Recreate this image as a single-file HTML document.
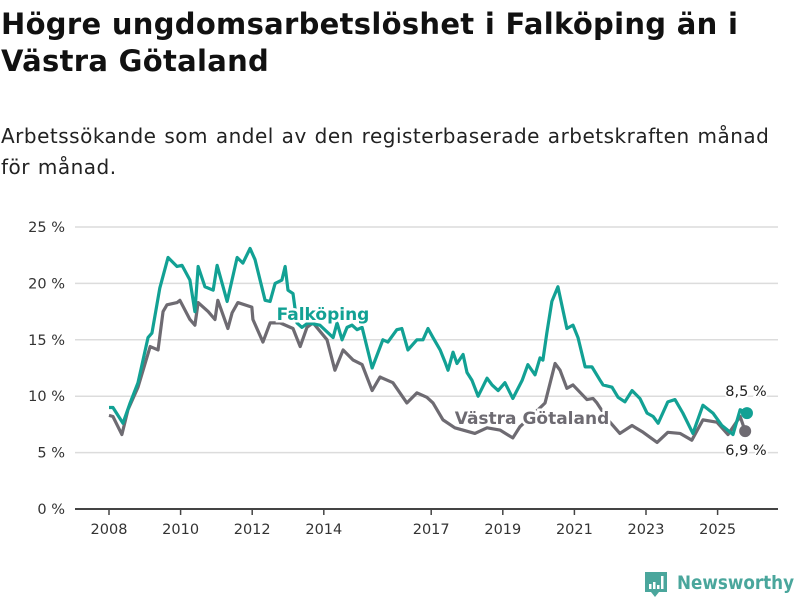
<!DOCTYPE html>
<html><head><meta charset="utf-8"><style>
body{margin:0;background:#fff;width:800px;height:600px;overflow:hidden;font-family:"DejaVu Sans","Liberation Sans",sans-serif;}
h1{position:absolute;left:1px;top:6px;margin:0;font-size:29px;line-height:37px;font-weight:bold;color:#111;width:760px;letter-spacing:0.3px}
p{position:absolute;left:1px;top:121px;margin:0;font-size:20px;line-height:31px;color:#222;width:786px;letter-spacing:0.5px;word-spacing:1px}
svg{position:absolute;left:0;top:0}
text{font-family:"DejaVu Sans","Liberation Sans",sans-serif}
</style></head><body>
<h1>Högre ungdomsarbetslöshet i Falköping än i Västra Götaland</h1>
<p>Arbetssökande som andel av den registerbaserade arbetskraften månad för månad.</p>
<svg id="chart" width="800" height="600"></svg>
<script>
const faDates=[2008.0,2008.11,2008.39,2008.59,2008.81,2009.09,2009.2,2009.42,2009.65,2009.9,2010.04,2010.26,2010.4,2010.49,2010.68,2010.91,2011.02,2011.3,2011.58,2011.74,2011.94,2012.08,2012.36,2012.5,2012.64,2012.83,2012.92,2013.0,2013.14,2013.25,2013.39,2013.56,2013.89,2014.26,2014.37,2014.51,2014.65,2014.79,2014.93,2015.07,2015.35,2015.65,2015.79,2016.04,2016.18,2016.35,2016.6,2016.77,2016.91,2017.05,2017.25,2017.39,2017.47,2017.61,2017.72,2017.89,2018.0,2018.14,2018.31,2018.42,2018.56,2018.7,2018.87,2019.06,2019.28,2019.54,2019.7,2019.9,2020.04,2020.12,2020.23,2020.37,2020.54,2020.79,2020.96,2021.1,2021.3,2021.49,2021.72,2021.8,2022.05,2022.22,2022.41,2022.61,2022.83,2023.03,2023.2,2023.34,2023.61,2023.81,2024.03,2024.31,2024.59,2024.87,2025.12,2025.43,2025.63,2025.82];
const faValues=[9.0,9.0,7.6,9.4,11.2,15.2,15.6,19.6,22.3,21.5,21.6,20.3,17.5,21.5,19.7,19.4,21.6,18.4,22.3,21.8,23.1,22.1,18.5,18.4,20.0,20.3,21.5,19.4,19.1,16.5,16.1,16.5,16.3,15.2,16.5,15.0,16.1,16.3,15.9,16.1,12.5,15.0,14.8,15.9,16.0,14.1,15.0,15.0,16.0,15.2,14.1,13.0,12.3,13.9,12.9,13.7,12.1,11.4,10.0,10.7,11.6,11.0,10.5,11.2,9.8,11.4,12.8,11.9,13.4,13.2,15.6,18.4,19.7,16.0,16.3,15.2,12.6,12.6,11.4,11.0,10.8,9.9,9.5,10.5,9.8,8.5,8.2,7.6,9.5,9.7,8.5,6.7,9.2,8.5,7.4,6.6,8.8,8.5];
const vgDates=[2008.0,2008.11,2008.36,2008.53,2008.81,2009.15,2009.37,2009.51,2009.62,2009.9,2009.98,2010.26,2010.4,2010.49,2010.77,2010.96,2011.04,2011.32,2011.44,2011.6,2011.99,2012.02,2012.3,2012.5,2012.78,2013.14,2013.34,2013.53,2013.7,2014.09,2014.31,2014.54,2014.82,2015.07,2015.35,2015.57,2015.93,2016.32,2016.6,2016.88,2017.05,2017.33,2017.66,2018.22,2018.56,2018.92,2019.28,2019.48,2019.82,2020.18,2020.46,2020.6,2020.79,2020.96,2021.35,2021.52,2021.63,2021.94,2022.27,2022.61,2022.92,2023.31,2023.61,2023.95,2024.28,2024.59,2024.98,2025.29,2025.63,2025.77];
const vgValues=[8.3,8.2,6.6,8.8,10.8,14.4,14.1,17.5,18.1,18.3,18.5,16.8,16.3,18.3,17.5,16.8,18.5,16.0,17.4,18.3,17.9,16.8,14.8,16.5,16.5,16.0,14.4,16.1,16.5,15.0,12.3,14.1,13.2,12.8,10.5,11.7,11.2,9.4,10.3,9.9,9.4,7.9,7.2,6.7,7.2,7.0,6.3,7.3,8.3,9.4,12.9,12.3,10.7,11.0,9.7,9.8,9.4,7.9,6.7,7.4,6.8,5.9,6.8,6.7,6.1,7.9,7.7,6.6,8.2,6.9];
const yTicks=[0,5,10,15,20,25];
const yTickLabels=["0 %","5 %","10 %","15 %","20 %","25 %"];
const xTicks=[2008,2010,2012,2014,2017,2019,2021,2023,2025];
const xTickLabels=["2008","2010","2012","2014","2017","2019","2021","2023","2025"];
const faLast="8,5 %", vgLast="6,9 %";

const NS="http://www.w3.org/2000/svg";
const svg=document.getElementById('chart');
const X=t=>109+(t-2008)*35.8;
const Y=v=>509-v*11.28;
function mk(tag,attrs,txt){const e=document.createElementNS(NS,tag);for(const k in attrs)e.setAttribute(k,attrs[k]);if(txt!=null)e.textContent=txt;svg.appendChild(e);return e;}
yTicks.forEach((v,i)=>{
  if(v>0){const g=mk('line',{x1:75,x2:778,y1:Y(v),y2:Y(v),stroke:'#dcdcdc','stroke-width':1.5});
  
  }
  const t=mk('text',{x:65,y:Y(v)+5,'text-anchor':'end','font-size':14.5,fill:'#333'},yTickLabels[i]);
  
  
});
const ax=mk('line',{x1:75,x2:778,y1:509,y2:509,stroke:'#444','stroke-width':2});


xTicks.forEach((yr,i)=>{
  const tk=mk('line',{x1:X(yr),x2:X(yr),y1:509,y2:515,stroke:'#444','stroke-width':1.5});
  
  
  const t=mk('text',{x:X(yr),y:534,'text-anchor':'middle','font-size':14.5,fill:'#333'},xTickLabels[i]);
  
  
});
function line(d,v,col,name){
  const p=mk('polyline',{points:d.map((t,i)=>X(t)+','+Y(v[i])).join(' '),fill:'none',stroke:col,'stroke-width':3.2,'stroke-linejoin':'round'});
  
  
}
line(vgDates,vgValues,'#6e6b72','line-vastra-gotaland');
line(faDates,faValues,'#12a194','line-falkoping');
const d1=mk('circle',{cx:X(vgDates[vgDates.length-1]),cy:Y(vgValues[vgValues.length-1]),r:6,fill:'#6e6b72'});


const d2=mk('circle',{cx:X(faDates[faDates.length-1]),cy:Y(faValues[faValues.length-1]),r:6,fill:'#12a194'});


const l1=mk('text',{x:746,y:Y(faValues[faValues.length-1])-17,'text-anchor':'middle','font-size':14.5,fill:'#222',stroke:'#fff','stroke-width':4,'paint-order':'stroke'},faLast);


const l2=mk('text',{x:746,y:Y(vgValues[vgValues.length-1])+24,'text-anchor':'middle','font-size':14.5,fill:'#222',stroke:'#fff','stroke-width':4,'paint-order':'stroke'},vgLast);


const s1=mk('text',{x:323,y:320,'text-anchor':'middle','font-size':17,'font-weight':'bold',fill:'#12a194',stroke:'#fff','stroke-width':5,'paint-order':'stroke'},'Falköping');


const s2=mk('text',{x:532,y:424,'text-anchor':'middle','font-size':17,'font-weight':'bold',fill:'#6e6b72',stroke:'#fff','stroke-width':5,'paint-order':'stroke'},'Västra Götaland');


</script>
<svg width="800" height="600" style="pointer-events:none">
<path d="M645 572 h22 v20 h-8 l-4 5 l-4 -5 h-6 z" fill="#4aa69c"/>
<rect x="649" y="584" width="2.5" height="5" fill="#fff"/><rect x="653" y="582" width="2.5" height="7" fill="#fff"/><rect x="657" y="585" width="2.5" height="4" fill="#fff"/><rect x="661" y="576" width="2.5" height="13" fill="#fff"/>
<text x="677" y="589" font-size="19" font-weight="bold" fill="#4aa69c" textLength="117" lengthAdjust="spacingAndGlyphs">Newsworthy</text>
</svg>
</body></html>
